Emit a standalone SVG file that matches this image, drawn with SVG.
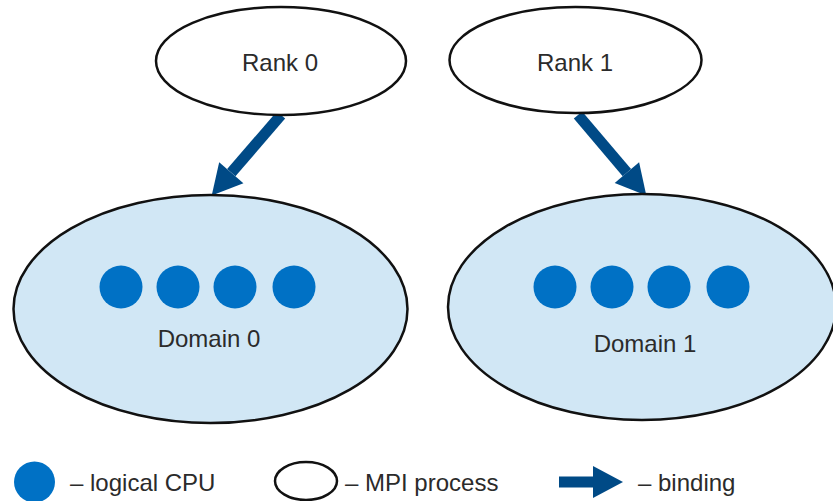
<svg xmlns="http://www.w3.org/2000/svg" width="833" height="501" viewBox="0 0 833 501">
<defs>
<style>
.proc{fill:#ffffff;stroke:#111111;stroke-width:2.5}
.dom{fill:#d1e7f5;stroke:#111111;stroke-width:2.5}
.cpu{fill:#0071c5}
.lbl{font-family:"Liberation Sans",Arial,sans-serif;font-size:24px;fill:#2b2b2b}
.mid{text-anchor:middle}
.bind{stroke:#004a86;stroke-width:11;fill:none}
</style>
<marker id="head" markerUnits="userSpaceOnUse" markerWidth="30" markerHeight="32" refX="0" refY="16" orient="auto" overflow="visible">
<path d="M0,0 L30,16 L0,32 Z" fill="#004a86"/>
</marker>
</defs>
<rect width="833" height="501" fill="#ffffff"/>
<g id="connectors">
<line class="bind" x1="281" y1="115" x2="231.3" y2="172.7" marker-end="url(#head)"/>
<line class="bind" x1="578" y1="115" x2="626.9" y2="172.6" marker-end="url(#head)"/>
</g>
<g id="rank0">
<ellipse class="proc" cx="281" cy="61" rx="125" ry="54"/>
<text class="lbl mid" x="280" y="71">Rank 0</text>
</g>
<g id="rank1">
<ellipse class="proc" cx="575.5" cy="60" rx="126" ry="53"/>
<text class="lbl mid" x="575" y="71">Rank 1</text>
</g>
<g id="domain0">
<ellipse class="dom" cx="210.5" cy="309" rx="197" ry="114"/>
<circle class="cpu" cx="121" cy="287" r="21.5"/>
<circle class="cpu" cx="178" cy="287" r="21.5"/>
<circle class="cpu" cx="235" cy="287" r="21.5"/>
<circle class="cpu" cx="294" cy="287" r="21.5"/>
<text class="lbl mid" x="209" y="347">Domain 0</text>
</g>
<g id="domain1">
<ellipse class="dom" cx="642" cy="307" rx="194" ry="113"/>
<circle class="cpu" cx="555" cy="287" r="21.5"/>
<circle class="cpu" cx="612" cy="287" r="21.5"/>
<circle class="cpu" cx="669" cy="287" r="21.5"/>
<circle class="cpu" cx="728" cy="287" r="21.5"/>
<text class="lbl mid" x="645" y="352">Domain 1</text>
</g>
<g id="legend">
<circle class="cpu" cx="34.5" cy="482" r="20.5"/>
<text class="lbl" x="70" y="491">– logical CPU</text>
<ellipse class="proc" cx="306" cy="481" rx="31" ry="19"/>
<text class="lbl" x="345" y="491">– MPI process</text>
<line class="bind" x1="559" y1="482" x2="593" y2="482" stroke-width="10" marker-end="url(#head)"/>
<text class="lbl" x="638" y="491">– binding</text>
</g>
</svg>
